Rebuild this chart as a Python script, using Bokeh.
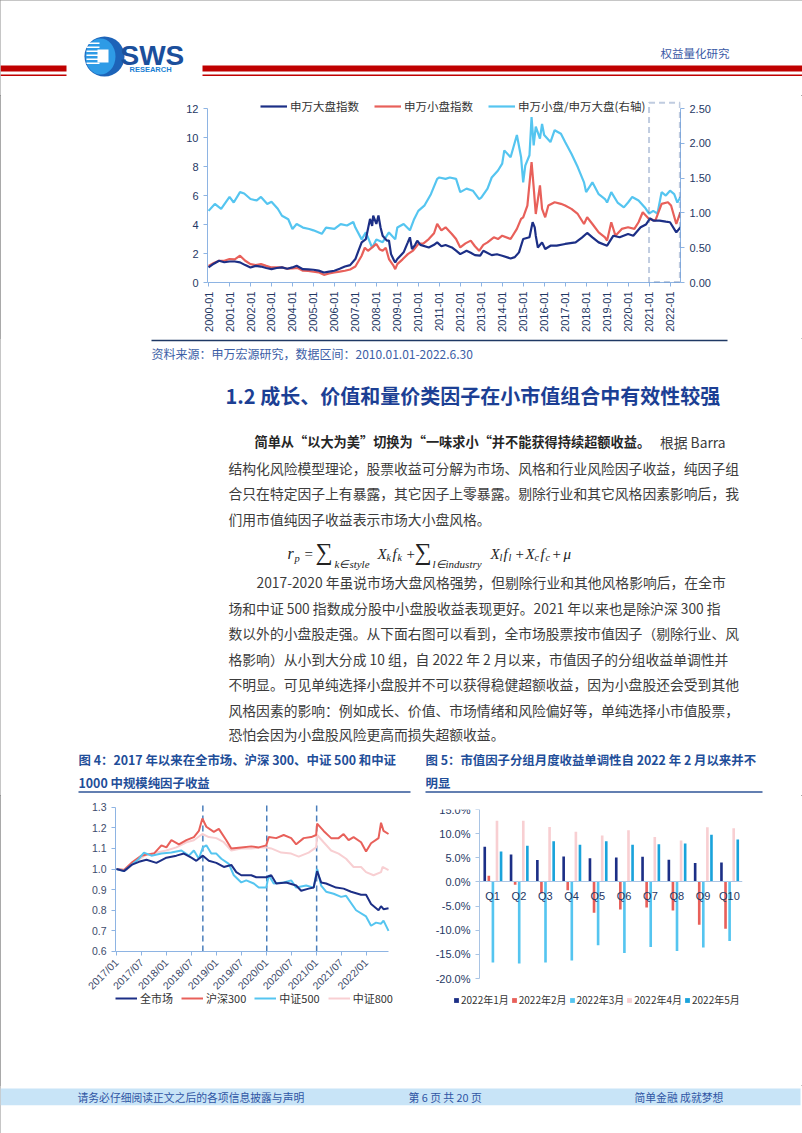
import math
from bokeh.plotting import figure
from bokeh.models import (Range1d, LinearAxis, FixedTicker, Legend, LegendItem,
                          BoxAnnotation, PrintfTickFormatter, ColumnDataSource)
from bokeh.layouts import column, row
from bokeh.transform import dodge
from bokeh.core.properties import value
from bokeh.embed import file_html
from bokeh.resources import INLINE

# ---------------- data: chart 1 (申万大盘 / 申万小盘 / ratio) ----------------
big_t = [2000.0, 2000.25, 2000.5, 2000.75, 2001.0, 2001.25, 2001.5, 2001.75, 2002.0, 2002.25,
         2002.5, 2002.75, 2003.0, 2003.25, 2003.5, 2003.75, 2004.0, 2004.2, 2004.5, 2004.75,
         2005.0, 2005.25, 2005.5, 2005.75, 2006.0, 2006.25, 2006.5, 2006.75, 2007.0, 2007.15,
         2007.3, 2007.5, 2007.7, 2007.8, 2007.85, 2008.0, 2008.1, 2008.2, 2008.3, 2008.5,
         2008.6, 2008.7, 2008.85, 2008.9, 2009.0, 2009.3, 2009.5, 2009.6, 2009.7, 2009.85,
         2009.95, 2010.1, 2010.5, 2010.75, 2010.9, 2011.1, 2011.3, 2011.6, 2011.8, 2012.0,
         2012.3, 2012.5, 2012.7, 2012.95, 2013.1, 2013.5, 2013.75, 2014.0, 2014.4, 2014.6,
         2014.8, 2015.0, 2015.3, 2015.45, 2015.55, 2015.6, 2015.7, 2015.9, 2016.05, 2016.3,
         2016.6, 2017.0, 2017.5, 2017.8, 2018.05, 2018.3, 2018.6, 2019.0, 2019.3, 2019.6,
         2020.0, 2020.25, 2020.6, 2020.85, 2021.05, 2021.2, 2021.5, 2021.8, 2022.0, 2022.3, 2022.5]
big_v = [1.04, 1.3, 1.5, 1.4, 1.45, 1.45, 1.39, 1.2, 1.04, 1.15,
         1.1, 1.0, 0.92, 1.0, 1.04, 0.95, 1.04, 1.15, 0.92, 0.9,
         0.88, 0.82, 0.69, 0.75, 0.81, 0.95, 1.1, 1.2, 1.62, 2.2,
         2.77, 3.0, 4.39, 3.9, 4.62, 4.04, 4.62, 3.8, 3.23, 2.89,
         2.9, 1.96, 1.5, 1.39, 1.62, 2.08, 2.77, 3.12, 2.31, 2.6,
         2.89, 2.6, 2.42, 2.6, 2.77, 2.5, 2.59, 2.42, 2.2, 1.96,
         2.19, 2.05, 1.89, 1.85, 2.19, 1.89, 1.95, 1.85, 1.66, 1.75,
         2.08, 3.0, 3.12, 4.16, 3.8, 3.23, 2.42, 2.77, 2.31, 2.54,
         2.54, 2.66, 2.77, 3.1, 3.42, 3.12, 2.77, 2.54, 3.23, 3.12,
         3.35, 3.23, 3.81, 4.0, 4.43, 4.27, 4.27, 4.2, 4.16, 3.46, 3.81]

small_t = [2000.0, 2000.25, 2000.5, 2000.75, 2001.0, 2001.25, 2001.5, 2001.75, 2002.0, 2002.25,
           2002.5, 2002.75, 2003.0, 2003.25, 2003.5, 2003.75, 2004.0, 2004.25, 2004.5, 2004.75,
           2005.0, 2005.25, 2005.5, 2005.75, 2006.0, 2006.25, 2006.5, 2006.75, 2007.0, 2007.3,
           2007.45, 2007.6, 2007.8, 2008.0, 2008.15, 2008.3, 2008.45, 2008.6, 2008.8, 2008.9,
           2009.0, 2009.25, 2009.5, 2009.75, 2010.0, 2010.25, 2010.5, 2010.75, 2010.9, 2011.1,
           2011.3, 2011.6, 2011.8, 2012.0, 2012.25, 2012.5, 2012.7, 2012.9, 2013.1, 2013.3,
           2013.6, 2013.8, 2014.0, 2014.4, 2014.7, 2014.9, 2015.0, 2015.2, 2015.4, 2015.5,
           2015.6, 2015.8, 2015.9, 2016.05, 2016.2, 2016.5, 2016.8, 2017.0, 2017.3, 2017.6,
           2017.9, 2018.05, 2018.3, 2018.6, 2018.9, 2019.0, 2019.2, 2019.4, 2019.7, 2020.0,
           2020.3, 2020.5, 2020.7, 2021.0, 2021.3, 2021.6, 2021.9, 2022.05, 2022.3, 2022.5]
small_v = [1.15, 1.35, 1.5, 1.5, 1.62, 1.6, 1.85, 1.5, 1.27, 1.2,
           1.27, 1.15, 1.04, 1.05, 1.04, 0.95, 0.97, 1.0, 0.81, 0.8,
           0.74, 0.7, 0.53, 0.62, 0.69, 0.75, 0.81, 0.9, 1.1, 1.85,
           2.4, 2.19, 2.42, 2.66, 2.3, 2.19, 2.4, 1.62, 1.2, 0.92,
           1.27, 1.6, 1.96, 2.2, 2.66, 2.7, 3.0, 3.4, 4.04, 3.6,
           3.81, 3.35, 3.0, 2.42, 2.7, 2.89, 2.5, 2.19, 2.6, 2.77,
           3.12, 3.0, 3.23, 3.0, 3.7, 4.39, 4.5, 5.31, 8.31, 6.58,
           4.73, 6.7, 5.08, 4.5, 5.31, 5.54, 5.43, 5.31, 5.08, 4.73,
           4.04, 4.5, 4.04, 3.46, 3.12, 2.89, 4.16, 3.23, 3.7, 3.81,
           3.7, 4.16, 4.85, 4.39, 4.27, 5.43, 5.54, 5.31, 4.04, 4.85]

ratio_t = [2000.0, 2000.3, 2000.6, 2001.0, 2001.2, 2001.5, 2001.7, 2002.0, 2002.3, 2002.5,
           2002.8, 2003.0, 2003.3, 2003.5, 2003.8, 2004.0, 2004.2, 2004.5, 2004.8, 2005.0,
           2005.4, 2005.6, 2006.0, 2006.3, 2006.6, 2006.9, 2007.0, 2007.3, 2007.5, 2007.8,
           2008.0, 2008.3, 2008.6, 2008.9, 2009.0, 2009.3, 2009.6, 2009.8, 2010.0, 2010.3,
           2010.6, 2010.9, 2011.0, 2011.3, 2011.5, 2011.8, 2012.0, 2012.3, 2012.6, 2012.9,
           2013.0, 2013.3, 2013.5, 2013.8, 2014.0, 2014.1, 2014.4, 2014.7, 2014.9, 2015.0,
           2015.1, 2015.3, 2015.4, 2015.5, 2015.6, 2015.8, 2015.9, 2016.0, 2016.3, 2016.5,
           2016.8, 2017.0, 2017.3, 2017.6, 2017.9, 2018.0, 2018.3, 2018.6, 2018.9, 2019.0,
           2019.2, 2019.5, 2019.8, 2020.0, 2020.2, 2020.5, 2020.8, 2021.0, 2021.2, 2021.4,
           2021.6, 2021.8, 2022.0, 2022.2, 2022.35, 2022.5]
ratio_v = [1.03, 1.13, 1.06, 1.23, 1.15, 1.30, 1.28, 1.20, 1.18, 1.23,
           1.13, 1.16, 1.06, 0.96, 0.91, 0.77, 0.84, 0.79, 0.77, 0.75,
           0.70, 0.79, 0.77, 0.84, 0.82, 0.87, 0.79, 0.62, 0.72, 0.50,
           0.62, 0.58, 0.72, 0.62, 0.79, 0.84, 0.75, 0.91, 1.03, 1.11,
           1.27, 1.49, 1.51, 1.49, 1.51, 1.49, 1.30, 1.35, 1.32, 1.20,
           1.22, 1.35, 1.51, 1.61, 1.71, 1.90, 1.80, 2.12, 1.80, 1.44,
           1.68, 1.83, 2.38, 1.97, 2.24, 2.07, 2.28, 2.12, 2.02, 2.19,
           2.14, 2.02, 1.85, 1.66, 1.44, 1.30, 1.44, 1.27, 1.20, 1.15,
           1.30, 1.15, 1.08, 1.15, 1.23, 1.18, 1.08, 0.99, 1.03, 0.99,
           1.30, 1.25, 1.32, 1.27, 1.15, 1.23]

year_ticks = list(range(2000, 2023))

# ---------------- data: figure 4 ----------------
all_t = [2017.0, 2017.15, 2017.3, 2017.45, 2017.6, 2017.8, 2018.0, 2018.2, 2018.35, 2018.5,
         2018.6, 2018.73, 2018.85, 2019.0, 2019.15, 2019.3, 2019.4, 2019.5, 2019.7, 2019.8,
         2020.0, 2020.1, 2020.2, 2020.4, 2020.6, 2020.7, 2020.85, 2020.95, 2021.02, 2021.1,
         2021.2, 2021.4, 2021.55, 2021.7, 2021.9, 2022.0, 2022.1, 2022.25, 2022.3, 2022.35, 2022.45]
all_v = [1.0, 0.99, 1.02, 1.035, 1.045, 1.03, 1.055, 1.065, 1.075, 1.055,
         1.04, 1.065, 1.04, 1.03, 1.01, 1.02, 0.985, 0.97, 0.97, 0.96,
         0.96, 0.97, 0.93, 0.935, 0.92, 0.895, 0.905, 0.91, 0.99, 0.935,
         0.93, 0.91, 0.905, 0.89, 0.875, 0.875, 0.83, 0.80, 0.82, 0.805, 0.81]

hs300_t = [2017.0, 2017.15, 2017.3, 2017.5, 2017.6, 2017.75, 2017.9, 2018.0, 2018.1, 2018.25,
           2018.4, 2018.55, 2018.65, 2018.72, 2018.8, 2018.95, 2019.05, 2019.2, 2019.3, 2019.5,
           2019.7, 2019.85, 2020.0, 2020.05, 2020.2, 2020.35, 2020.5, 2020.6, 2020.75, 2020.9,
           2021.0, 2021.02, 2021.15, 2021.3, 2021.45, 2021.55, 2021.65, 2021.75, 2021.9, 2022.0,
           2022.1, 2022.25, 2022.3, 2022.35, 2022.45]
hs300_v = [1.0, 0.995, 1.03, 1.065, 1.07, 1.075, 1.115, 1.105, 1.14, 1.12,
           1.14, 1.155, 1.185, 1.245, 1.205, 1.18, 1.195, 1.14, 1.10, 1.105,
           1.11, 1.105, 1.115, 1.155, 1.15, 1.165, 1.15, 1.12, 1.15, 1.155,
           1.165, 1.22, 1.185, 1.15, 1.15, 1.17, 1.14, 1.155, 1.13, 1.085,
           1.125, 1.15, 1.225, 1.185, 1.17]

zz500_t = [2017.0, 2017.15, 2017.3, 2017.45, 2017.55, 2017.7, 2017.9, 2018.1, 2018.3, 2018.45,
           2018.55, 2018.65, 2018.73, 2018.8, 2018.9, 2019.0, 2019.1, 2019.25, 2019.35, 2019.5,
           2019.6, 2019.75, 2019.85, 2020.0, 2020.05, 2020.15, 2020.35, 2020.5, 2020.6, 2020.8,
           2020.95, 2021.02, 2021.1, 2021.2, 2021.35, 2021.5, 2021.6, 2021.8, 2022.0, 2022.1,
           2022.2, 2022.3, 2022.35, 2022.45]
zz500_v = [1.0, 0.99, 1.02, 1.05, 1.08, 1.065, 1.075, 1.08, 1.09, 1.065,
           1.09, 1.05, 1.105, 1.115, 1.075, 1.075, 1.05, 1.025, 0.97, 0.935,
           0.945, 0.93, 0.91, 0.91, 0.97, 0.93, 0.935, 0.945, 0.91, 0.92,
           0.91, 1.0, 0.92, 0.89, 0.88, 0.865, 0.87, 0.80, 0.77, 0.725,
           0.74, 0.735, 0.75, 0.70]

zz800_t = [2017.0, 2017.2, 2017.4, 2017.6, 2017.8, 2018.0, 2018.2, 2018.4, 2018.55, 2018.72,
           2018.85, 2019.0, 2019.15, 2019.3, 2019.5, 2019.7, 2019.9, 2020.0, 2020.1, 2020.3,
           2020.5, 2020.65, 2020.85, 2021.0, 2021.02, 2021.15, 2021.3, 2021.45, 2021.6, 2021.75,
           2021.9, 2022.0, 2022.15, 2022.3, 2022.33, 2022.45]
zz800_v = [1.0, 0.995, 1.04, 1.07, 1.08, 1.09, 1.105, 1.13, 1.14, 1.17,
           1.155, 1.15, 1.13, 1.09, 1.10, 1.10, 1.105, 1.105, 1.10, 1.08,
           1.075, 1.06, 1.08, 1.105, 1.165, 1.13, 1.09, 1.075, 1.05, 1.01,
           1.01, 0.985, 0.97, 0.985, 1.01, 0.995]

f4_ticks = [2017.0, 2017.5, 2018.0, 2018.5, 2019.0, 2019.5, 2020.0, 2020.5, 2021.0, 2021.5, 2022.0]
f4_tick_labels = ["2017/01", "2017/07", "2018/01", "2018/07", "2019/01", "2019/07",
                  "2020/01", "2020/07", "2021/01", "2021/07", "2022/01"]
f4_breaks = [2018.73, 2020.01, 2021.01]

# ---------------- data: figure 5 ----------------
groups = ["Q1", "Q2", "Q3", "Q4", "Q5", "Q6", "Q7", "Q8", "Q9", "Q10"]
months = ["2022年1月", "2022年2月", "2022年3月", "2022年4月", "2022年5月"]
ret_jan = [7.26, 5.7, 4.55, 5.25, 4.9, 5.05, 5.2, 4.6, 3.9, 4.0]
ret_feb = [1.3, -0.6, -2.4, -1.7, -6.4, -5.7, -5.3, -5.9, -8.85, -9.7]
ret_mar = [-16.7, -16.9, -16.7, -16.25, -13.1, -14.7, -13.5, -14.3, -13.6, -12.25]
ret_apr = [12.65, 12.65, 11.4, 10.4, 9.6, 10.7, 9.3, 8.6, 11.3, 11.1]
ret_may = [6.3, 7.5, 8.4, 7.7, 8.4, 7.7, 7.8, 7.95, 9.75, 8.8]

CJK = "Noto Sans CJK SC"
NAVY = "#1c2f86"
RED = "#e8605a"
LBLUE = "#55c5f0"
PINK = "#f8cfd2"
MBLUE = "#1aa3db"
AXIS = "#8eb4e3"
TICKTXT = "#1f3864"


def canvas(w, h):
    p = figure(width=w, height=h, x_range=Range1d(0, w), y_range=Range1d(h, 0),
               output_backend="svg", toolbar_location=None, min_border=0,
               x_axis_type=None, y_axis_type=None)
    p.grid.visible = False
    p.outline_line_color = None
    p.background_fill_color = "white"
    p.border_fill_color = "white"
    return p


def txt(p, x, y, s, size, color, style="normal", align="left", font=CJK):
    p.text(x=[x], y=[y], text=[s], text_font=value(font), text_font_size=f"{size}px",
           text_color=color, text_font_style=style, text_align=align, text_baseline="middle")


def style_axis(ax, size="11px", color=TICKTXT, line=AXIS):
    ax.axis_line_color = line
    ax.major_tick_line_color = line
    ax.minor_tick_line_color = None
    ax.major_tick_in = 0
    ax.major_tick_out = 4
    ax.major_label_text_font = "Liberation Sans"
    ax.major_label_text_font_size = size
    ax.major_label_text_color = color


def plain_legend(items, loc, size, gw, gh, spacing):
    return Legend(items=items, location=loc, orientation="horizontal", label_text_font=CJK,
                  label_text_font_size=size, label_text_color="#333333", glyph_width=gw,
                  glyph_height=gh, label_height=gh, label_standoff=3, spacing=spacing,
                  padding=0, margin=0, border_line_color=None, background_fill_alpha=0)


# ---------------- header ----------------
head = canvas(802, 95)
head.quad(left=[0, 202], right=[66, 802], top=[65, 65], bottom=[71, 71], color="#c00000", line_color=None)
head.quad(left=[0, 202], right=[66, 802], top=[74, 74], bottom=[75.6, 75.6], color="#c00000", line_color=None)
head.ellipse(x=[104], y=[56], width=[40], height=[40], fill_color="#1d63b8", line_color=None)
head.ellipse(x=[100], y=[56], width=[30], height=[36], fill_color="#2e9be6", line_color=None)
head.quad(left=[86] * 6, right=[99] * 6, top=[42, 46, 50, 54, 58, 62], bottom=[43.6, 47.6, 51.6, 55.6, 59.6, 63.6],
          color="white", line_color=None)
head.quad(left=[97], right=[108], top=[49], bottom=[62], color="white", line_color=None)
txt(head, 120, 55, "SWS", 28, "#1b4f9c", "bold", font="Liberation Sans")
txt(head, 129, 68.5, "RESEARCH", 7.5, "#1a7fd4", "bold", font="Liberation Sans")
txt(head, 660, 52, "权益量化研究", 11.5, "#3b5aa6")

# ---------------- chart 1 ----------------
YTOP = 12.7
p1 = figure(width=802, height=243, x_range=Range1d(1999.95, 2022.5), y_range=Range1d(0, YTOP),
            output_backend="svg", toolbar_location=None,
            min_border_left=207, min_border_right=122, min_border_top=3, min_border_bottom=56)
p1.grid.visible = False
p1.outline_line_color = None
p1.extra_y_ranges = {"ratio": Range1d(0, YTOP / 4.8)}
r_ratio = p1.line(ratio_t, ratio_v, y_range_name="ratio", line_color=LBLUE, line_width=2.2)
r_small = p1.line(small_t, small_v, line_color=RED, line_width=2.2)
r_big = p1.line(big_t, big_v, line_color=NAVY, line_width=2.2)
p1.xaxis.ticker = FixedTicker(ticks=year_ticks)
p1.xaxis.major_label_overrides = {y: f"{y}-01" for y in year_ticks}
p1.xaxis.major_label_orientation = math.pi / 2
p1.yaxis.ticker = FixedTicker(ticks=[0, 2, 4, 6, 8, 10, 12])
p1.yaxis.bounds = (0, 12)
rax = LinearAxis(y_range_name="ratio", ticker=FixedTicker(ticks=[0, 0.5, 1.0, 1.5, 2.0, 2.5]),
                 formatter=PrintfTickFormatter(format="%.2f"), bounds=(0, 2.5))
p1.add_layout(rax, "right")
for ax in [p1.xaxis[0], p1.yaxis[0], rax]:
    style_axis(ax)
p1.add_layout(BoxAnnotation(left=2021.0, right=2022.47, bottom=0.03, top=12.4, fill_color=None, fill_alpha=0,
                            line_color="#2e5597", line_dash="6 4", line_width=2))
leg1 = plain_legend([LegendItem(label="申万大盘指数", renderers=[r_big]),
                     LegendItem(label="申万小盘指数", renderers=[r_small]),
                     LegendItem(label="申万小盘/申万大盘(右轴)", renderers=[r_ratio])],
                    (53, 168), "11.5px", 27, 12, 15)
p1.add_layout(leg1, "center")

# ---------------- text block ----------------
tb = canvas(802, 457)
O = 338
BODY = "#3c3c3c"
tb.line(x=[151, 727], y=[340 - O, 340 - O], line_color="#1f3864", line_width=1.3)
txt(tb, 151, 353 - O, "资料来源：申万宏源研究，数据区间：2010.01.01-2022.6.30", 12, "#3c5ea6")
txt(tb, 225, 395 - O, "1.2  成长、价值和量价类因子在小市值组合中有效性较强", 20, "#1c3f94", "bold")
txt(tb, 254, 441 - O, "简单从“以大为美”切换为“一味求小“并不能获得持续超额收益。", 13.2, "#262626", "bold")
txt(tb, 725, 441 - O, "根据 Barra", 13.8, BODY, align="right")
para1 = ["结构化风险模型理论，股票收益可分解为市场、风格和行业风险因子收益，纯因子组",
         "合只在特定因子上有暴露，其它因子上零暴露。剔除行业和其它风格因素影响后，我",
         "们用市值纯因子收益表示市场大小盘风格。"]
for i, s in enumerate(para1):
    txt(tb, 228, [467, 492, 518][i] - O, s, 13.8, BODY)
# formula
SER = "Liberation Serif"
fparts = [("r", 287, 553, 16, "italic"), ("p", 294, 558, 10.5, "italic"), ("=", 304, 553, 15, "normal"),
          ("∑", 315, 551, 24, "normal"), ("k∈style", 334, 563, 11, "italic"),
          ("X", 377, 553, 15, "italic"), ("k", 386, 557, 10, "italic"), ("f", 392, 553, 15, "italic"),
          ("k", 397, 557, 10, "italic"), ("+", 406, 553, 15, "normal"),
          ("∑", 414, 551, 24, "normal"), ("l∈industry", 432, 563, 11, "italic"),
          ("X", 490, 553, 15, "italic"), ("l", 499, 557, 10, "italic"), ("f", 503, 553, 15, "italic"),
          ("l", 508, 557, 10, "italic"), ("+", 515, 553, 15, "normal"),
          ("X", 525, 553, 15, "italic"), ("c", 534, 557, 10, "italic"), ("f", 540, 553, 15, "italic"),
          ("c", 545, 557, 10, "italic"), ("+", 552, 553, 15, "normal"), ("μ", 563, 553, 15, "italic")]
for s, x, y, sz, st in fparts:
    txt(tb, x, y - O, s, sz, "#222222", st, font=SER)
para2 = ["2017-2020 年虽说市场大盘风格强势，但剔除行业和其他风格影响后，在全市",
         "场和中证 500 指数成分股中小盘股收益表现更好。2021 年以来也是除沪深 300 指",
         "数以外的小盘股走强。从下面右图可以看到，全市场股票按市值因子（剔除行业、风",
         "格影响）从小到大分成 10 组，自 2022 年 2 月以来，市值因子的分组收益单调性并",
         "不明显。可见单纯选择小盘股并不可以获得稳健超额收益，因为小盘股还会受到其他",
         "风格因素的影响：例如成长、价值、市场情绪和风险偏好等，单纯选择小市值股票，",
         "恐怕会因为小盘股风险更高而损失超额收益。"]
p2y = [581, 607, 632, 658, 683, 709, 733]
for i, s in enumerate(para2):
    txt(tb, 256 if i == 0 else 228, p2y[i] - O, s, 13.8, BODY)
TITLE = "#1f4e99"
txt(tb, 78, 759 - O, "图 4：2017 年以来在全市场、沪深 300、中证 500 和中证", 12.4, TITLE, "bold")
txt(tb, 78, 782 - O, "1000 中规模纯因子收益", 12.4, TITLE, "bold")
txt(tb, 425, 759 - O, "图 5：市值因子分组月度收益单调性自 2022 年 2 月以来并不", 12.4, TITLE, "bold")
txt(tb, 425, 782 - O, "明显", 12.4, TITLE, "bold")
tb.line(x=[78, 410], y=[791.5 - O] * 2, line_color="#2f5597", line_width=1.5)
tb.line(x=[425, 762], y=[791.5 - O] * 2, line_color="#2f5597", line_width=1.5)

# ---------------- figure 4 ----------------
X4A, X4B = 2016.98, 2022.45
p4 = figure(width=401, height=290, x_range=Range1d(2015.878, 2022.65), y_range=Range1d(0.304, 1.3277),
            output_backend="svg", toolbar_location=None,
            min_border_left=60, min_border_right=3, min_border_top=6, min_border_bottom=73)
p4.grid.visible = False
p4.outline_line_color = None
p4.segment(x0=f4_breaks, y0=[0.6] * len(f4_breaks), x1=f4_breaks, y1=[1.325] * len(f4_breaks),
           line_color="#4a7ebb", line_dash="6 4", line_width=1.5)
r800 = p4.line(zz800_t, zz800_v, line_color=PINK, line_width=2)
r300 = p4.line(hs300_t, hs300_v, line_color=RED, line_width=2)
r500 = p4.line(zz500_t, zz500_v, line_color=LBLUE, line_width=2)
rall = p4.line(all_t, all_v, line_color=NAVY, line_width=2)
p4.xaxis.ticker = FixedTicker(ticks=f4_ticks)
p4.xaxis.major_label_overrides = dict(zip(f4_ticks, f4_tick_labels))
p4.xaxis.major_label_orientation = math.pi / 4
p4.xaxis.fixed_location = 0.6
p4.xaxis.bounds = (X4A, X4B)
p4.yaxis.ticker = FixedTicker(ticks=[0.6, 0.7, 0.8, 0.9, 1.0, 1.1, 1.2, 1.3])
p4.yaxis.formatter = PrintfTickFormatter(format="%.1f")
p4.yaxis.bounds = (0.6, 1.3)
p4.yaxis.fixed_location = X4A
style_axis(p4.xaxis[0], "10.5px", "#3d4b6b")
style_axis(p4.yaxis[0], "10.5px", "#3d4b6b")
leg4 = plain_legend([LegendItem(label="全市场", renderers=[rall]),
                     LegendItem(label="沪深300", renderers=[r300]),
                     LegendItem(label="中证500", renderers=[r500]),
                     LegendItem(label="中证800", renderers=[r800])],
                    (55, 6), "11px", 22, 12, 8)
p4.add_layout(leg4, "center")

# ---------------- figure 5 ----------------
pos = [i + 0.5 for i in range(len(groups))]
src5 = ColumnDataSource(dict(pos=pos, jan=ret_jan, feb=ret_feb, mar=ret_mar, apr=ret_apr, may=ret_may))
p5 = figure(width=401, height=290, x_range=Range1d(-2.053, 10), y_range=Range1d(-27.04, 15),
            output_backend="svg", toolbar_location=None,
            min_border_left=24, min_border_right=60, min_border_top=14, min_border_bottom=73)
p5.grid.visible = False
p5.outline_line_color = None
cols = ["jan", "feb", "mar", "apr", "may"]
colors5 = [NAVY, RED, LBLUE, PINK, MBLUE]
offs = [-0.3, -0.145, 0.01, 0.165, 0.32]
items5 = []
for c, col, off, lab in zip(cols, colors5, offs, months):
    r = p5.vbar(x=dodge("pos", off), top=c, bottom=0, width=0.1, source=src5,
                fill_color=col, line_color=None)
    items5.append(LegendItem(label=lab, renderers=[r]))
p5.yaxis.ticker = FixedTicker(ticks=[-20, -15, -10, -5, 0, 5, 10, 15])
p5.yaxis.formatter = PrintfTickFormatter(format="%.1f%%")
p5.yaxis.fixed_location = 0
p5.yaxis.bounds = (-20, 15)
p5.xaxis.ticker = FixedTicker(ticks=pos)
p5.xaxis.major_label_overrides = dict(zip(pos, groups))
p5.xaxis.fixed_location = 0
p5.xaxis.bounds = (0, 10)
style_axis(p5.yaxis[0], "11px", TICKTXT, "#a9c4e4")
style_axis(p5.xaxis[0], "11px", TICKTXT, "#a9c4e4")
p5.xaxis.major_tick_line_color = None
p5.xaxis.major_label_standoff = 4
leg5 = plain_legend(items5, (28, 5), "10px", 6, 6, 2)
leg5.label_standoff = 2
leg5.label_height = 12
p5.add_layout(leg5, "center")

# ---------------- footer ----------------
ft = canvas(802, 48)
ft.quad(left=[0], right=[800], top=[3], bottom=[19.7], color="#c8e4f7", line_color=None)
txt(ft, 77, 11.5, "请务必仔细阅读正文之后的各项信息披露与声明", 10.8, "#2f55a4")
txt(ft, 408, 11.5, "第 6 页 共 20 页", 10.8, "#2f55a4")
txt(ft, 634, 11.5, "简单金融 成就梦想", 10.8, "#2f55a4")

page = column(row(head), row(p1), row(tb), row(column(p4), column(p5), spacing=0), row(ft), spacing=0,
              styles={"outline": "1px solid #8c8c8c", "outline-offset": "-1px"})
open("out.html", "w").write(file_html(page, INLINE))
